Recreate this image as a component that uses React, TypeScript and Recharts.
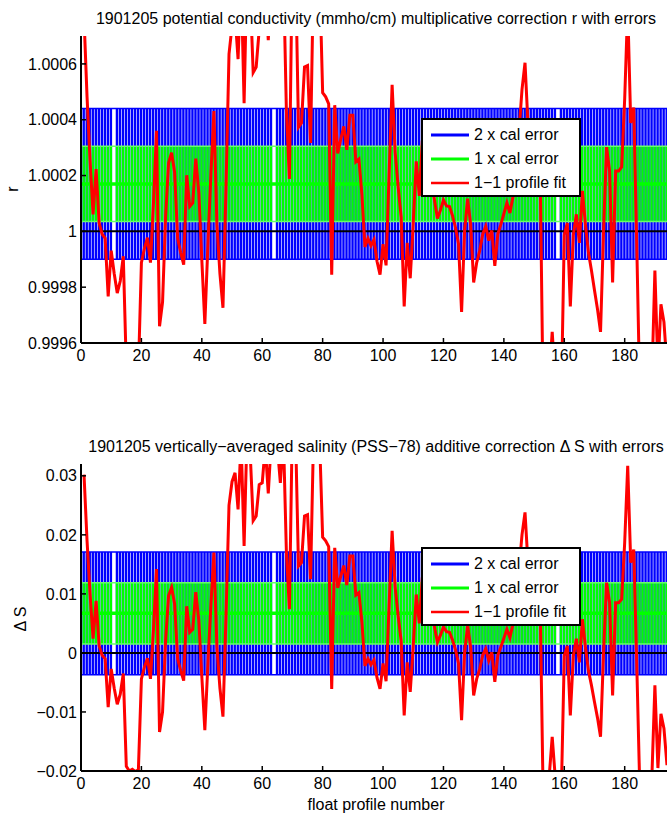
import { Bar, ComposedChart, Line, ReferenceLine, XAxis, YAxis } from "recharts";

// ---------------------------------------------------------------------------
// Data (float 1901205, profiles 1..195)
// ---------------------------------------------------------------------------

const deltaSFit = [
  0.0302, 0.019, 0.01, 0.0024, 0.0088, 0.0012, -0.0004, -0.001, -0.0092, -0.0027,
  -0.006, -0.0087, -0.007, -0.0035, -0.0192, -0.02, -0.0197, -0.0201, -0.0198, -0.0044,
  -0.0024, -0.0009, -0.0044, 0.004, 0.0142, -0.0134, -0.01, 0.002, 0.0097, 0.0111,
  0.0083, -0.001, -0.003, -0.0047, 0.0079, 0.0035, 0.004, 0.0103, 0.0055, -0.004,
  -0.0131, -0.002, 0.008, 0.017, 0.001, -0.006, -0.0108, 0.006, 0.025, 0.029,
  0.0305, 0.0243, 0.036, 0.0181, 0.038, 0.034, 0.0224, 0.0232, 0.0285, 0.0288,
  0.035, 0.027, 0.036, 0.034, 0.035, 0.0288, 0.037, 0.017, 0.0074, 0.04,
  0.038, 0.0147, 0.0153, 0.0232, 0.0234, 0.0125, 0.037, 0.042, 0.036, 0.0196,
  0.019, 0.018, -0.0061, 0.0178, 0.011, 0.013, 0.0148, 0.0115, 0.0164, 0.0164,
  0.0098, 0.0102, 0.0052, -0.0022, -0.001, -0.002, -0.0012, -0.0042, -0.0061, -0.0018,
  -0.0048, 0.008, 0.0207, 0.0112, 0.0063, 0.002, -0.0106, -0.0016, -0.0066, 0.0012,
  0.0099, 0.005, 0.0128, 0.01, 0.0085, 0.007, 0.0045, 0.0018, 0.003, 0.0044,
  0.0036, 0.0035, 0.0022, 0.0005, -0.0018, -0.0114, 0.0001, 0.0046, 0.001, -0.0072,
  -0.0044, -0.0027, -0.0004, 0.0007, -0.0013, 0.0001, -0.0049, -0.0004, 0.001, 0.0025,
  0.004, 0.0026, 0.0049, 0.008, 0.014, 0.02, 0.0238, 0.015, 0.013, 0.011,
  0.01, 0.009, -0.024, -0.026, -0.021, -0.0142, -0.021, -0.026, -0.024, -0.0005,
  0.0012, -0.0106, -0.0005, 0.0024, -0.0016, 0.0057, 0.001, -0.003, -0.0055, -0.0083,
  -0.011, -0.0142, 0, 0.0119, 0.0085, -0.0072, 0.0085, 0.0085, 0.0091, 0.0187,
  0.0317, 0.0153, 0.0175, -0.002, -0.023, -0.028, -0.03, -0.026, -0.021, -0.0055,
  -0.0195, -0.0103, -0.0128, -0.019, -0.015,
];

const rFit = [
  1.000766, 1.000482, 1.000254, 1.000061, 1.000223, 1.00003, 0.99999, 0.999975, 0.999767, 0.999931,
  0.999848, 0.999779, 0.999822, 0.999911, 0.999513, 0.999492, 0.9995, 0.99949, 0.999497, 0.999888,
  0.999939, 0.999977, 0.999888, 1.000102, 1.00036, 0.99966, 0.999746, 1.000051, 1.000246, 1.000282,
  1.000211, 0.999975, 0.999924, 0.999881, 1.000201, 1.000089, 1.000102, 1.000261, 1.00014, 0.999898,
  0.999668, 0.999949, 1.000203, 1.000431, 1.000025, 0.999848, 0.999726, 1.000152, 1.000635, 1.000736,
  1.000774, 1.000617, 1.000914, 1.000459, 1.000964, 1.000863, 1.000569, 1.000589, 1.000723, 1.000731,
  1.000888, 1.000685, 1.000914, 1.000863, 1.000888, 1.000731, 1.000939, 1.000431, 1.000188, 1.001015,
  1.000964, 1.000373, 1.000388, 1.000589, 1.000594, 1.000317, 1.000939, 1.001066, 1.000914, 1.000497,
  1.000482, 1.000457, 0.999845, 1.000452, 1.000279, 1.00033, 1.000376, 1.000292, 1.000416, 1.000416,
  1.000249, 1.000259, 1.000132, 0.999944, 0.999975, 0.999949, 0.99997, 0.999893, 0.999845, 0.999954,
  0.999878, 1.000203, 1.000525, 1.000284, 1.00016, 1.000051, 0.999731, 0.999959, 0.999832, 1.00003,
  1.000251, 1.000127, 1.000325, 1.000254, 1.000216, 1.000178, 1.000114, 1.000046, 1.000076, 1.000112,
  1.000091, 1.000089, 1.000056, 1.000013, 0.999954, 0.999711, 1.000003, 1.000117, 1.000025, 0.999817,
  0.999888, 0.999931, 0.99999, 1.000018, 0.999967, 1.000003, 0.999876, 0.99999, 1.000025, 1.000063,
  1.000102, 1.000066, 1.000124, 1.000203, 1.000355, 1.000508, 1.000604, 1.000381, 1.00033, 1.000279,
  1.000254, 1.000228, 0.999391, 0.99934, 0.999467, 0.99964, 0.999467, 0.99934, 0.999391, 0.999987,
  1.00003, 0.999731, 0.999987, 1.000061, 0.999959, 1.000145, 1.000025, 0.999924, 0.99986, 0.999789,
  0.999721, 0.99964, 1, 1.000302, 1.000216, 0.999817, 1.000216, 1.000216, 1.000231, 1.000475,
  1.000805, 1.000388, 1.000444, 0.999949, 0.999416, 0.999289, 0.999239, 0.99934, 0.999467, 0.99986,
  0.999505, 0.999739, 0.999675, 0.999518, 0.999619,
];

// profiles with no calibration error bar drawn
const missingProfiles = [11, 64, 158];

// mapped calibration (mean, 1 x error)
const rCal = [1.00017, 0.000135];
const deltaSCal = [0.0067, 0.0052];

const xTicks = [0, 20, 40, 60, 80, 100, 120, 140, 160, 180];
const rTicks = [0.9996, 0.9998, 1, 1.0002, 1.0004, 1.0006];
const rTickLabels = ["0.9996", "0.9998", "1", "1.0002", "1.0004", "1.0006"];
const deltaSTicks = [-0.02, -0.01, 0, 0.01, 0.02, 0.03];
const deltaSTickLabels = ["\u22120.02", "\u22120.01", "0", "0.01", "0.02", "0.03"];

const legendLabels = ["2 x cal error", "1 x cal error", "1\u22121 profile fit"];
const legendColors = ["#0000ff", "#00ff00", "#ff0000"];

// ---------------------------------------------------------------------------
// Styling
// ---------------------------------------------------------------------------

const FONT = "'Liberation Sans', Arial, Helvetica, sans-serif";
const X_DOMAIN: [number, number] = [0, 195];
const AXIS_LINE = { stroke: "#000", strokeWidth: 2 };
const TICK_LINE = { stroke: "#000", strokeWidth: 1.5 };
const TICK_STYLE = { fontSize: 16, fill: "#000", fontFamily: FONT };

// ---------------------------------------------------------------------------
// One panel
// ---------------------------------------------------------------------------

interface PanelProps {
  fit: number[];
  cal: number[];
  domain: [number, number];
  ticks: number[];
  tickLabels: string[];
  zero: number;
}

function Panel({ fit, cal, domain, ticks, tickLabels, zero }: PanelProps) {
  const [mean, err] = cal;
  const rows = fit.map((v, i) => {
    const p = i + 1;
    const missing = missingProfiles.includes(p);
    return {
      p,
      fit: v,
      outer: missing ? null : [mean - 2 * err, mean + 2 * err],
      inner: missing ? null : [mean - err, mean + err],
    };
  });
  const label = (v: number) => {
    const i = ticks.findIndex((t) => Math.abs(t - v) < 1e-9);
    return i >= 0 ? tickLabels[i] : String(v);
  };

  return (
    <ComposedChart
      width={700}
      height={400}
      data={rows}
      margin={{ top: 36, right: 30, bottom: 27, left: 11 }}
    >
      <XAxis
        dataKey="p"
        type="number"
        domain={X_DOMAIN}
        ticks={xTicks}
        interval={0}
        allowDataOverflow
        height={30}
        tickSize={-5}
        tickMargin={12}
        axisLine={AXIS_LINE}
        tickLine={TICK_LINE}
        tick={TICK_STYLE}
      />
      <XAxis xAxisId="inner" dataKey="p" type="number" domain={X_DOMAIN} allowDataOverflow hide />
      <XAxis
        xAxisId="top"
        orientation="top"
        dataKey="p"
        type="number"
        domain={X_DOMAIN}
        ticks={xTicks}
        interval={0}
        allowDataOverflow
        height={0}
        tickSize={-5}
        tick={false}
        axisLine={AXIS_LINE}
        tickLine={TICK_LINE}
      />
      <YAxis
        type="number"
        domain={domain}
        ticks={ticks}
        interval={0}
        allowDataOverflow
        width={70}
        tickSize={-5}
        tickMargin={9}
        tickFormatter={label}
        axisLine={AXIS_LINE}
        tickLine={TICK_LINE}
        tick={TICK_STYLE}
      />
      <YAxis
        yAxisId="right"
        orientation="right"
        type="number"
        domain={domain}
        ticks={ticks}
        interval={0}
        allowDataOverflow
        width={0}
        tickSize={-5}
        tick={false}
        axisLine={AXIS_LINE}
        tickLine={TICK_LINE}
      />

      <Bar dataKey="outer" fill="#0000ff" barSize={2.4} isAnimationActive={false} />
      <Bar dataKey="inner" xAxisId="inner" fill="#00ff00" barSize={2.4} isAnimationActive={false} />

      <ReferenceLine y={mean + 2 * err} stroke="#0000ff" strokeWidth={1.5} />
      <ReferenceLine y={mean - 2 * err} stroke="#0000ff" strokeWidth={1.5} />
      <ReferenceLine y={mean + err} stroke="#66ff66" strokeWidth={1.5} />
      <ReferenceLine y={mean - err} stroke="#66ff66" strokeWidth={1.5} />
      <ReferenceLine y={mean} stroke="#00ff00" strokeWidth={3.5} />
      <ReferenceLine y={zero} stroke="#000" strokeWidth={2} />

      <Line
        dataKey="fit"
        type="linear"
        stroke="#ff0000"
        strokeWidth={3}
        dot={false}
        isAnimationActive={false}
      />
    </ComposedChart>
  );
}

function LegendBox({ top }: { top: number }) {
  return (
    <g>
      <rect x={422} y={top} width={158} height={77} fill="#fff" stroke="#000" strokeWidth={2} />
      {legendLabels.map((text, i) => (
        <g key={text}>
          <line
            x1={431}
            x2={469}
            y1={top + 16 + i * 24}
            y2={top + 16 + i * 24}
            stroke={legendColors[i]}
            strokeWidth={i === 2 ? 2.5 : 3}
          />
          <text x={474} y={top + 21 + i * 24} fontSize={16} fontFamily={FONT} fill="#000">
            {text}
          </text>
        </g>
      ))}
    </g>
  );
}

export default function App() {
  return (
    <div
      style={{
        position: "fixed",
        left: 0,
        top: 0,
        width: 667,
        height: 815,
        overflow: "hidden",
        background: "#fff",
      }}
    >
      <div style={{ position: "absolute", left: 0, top: 0 }}>
        <Panel
          fit={rFit}
          cal={rCal}
          domain={[0.9996, 1.0007]}
          ticks={rTicks}
          tickLabels={rTickLabels}
          zero={1}
        />
      </div>
      <div style={{ position: "absolute", left: 0, top: 428 }}>
        <Panel
          fit={deltaSFit}
          cal={deltaSCal}
          domain={[-0.02, 0.032]}
          ticks={deltaSTicks}
          tickLabels={deltaSTickLabels}
          zero={0}
        />
      </div>

      <svg
        width={667}
        height={815}
        style={{ position: "absolute", left: 0, top: 0, pointerEvents: "none" }}
      >
        <g fontFamily={FONT} fontSize={16} fill="#000">
          <text x={376} y={24} textAnchor="middle">
            1901205 potential conductivity (mmho/cm) multiplicative correction r with errors
          </text>
          <text x={376} y={452} textAnchor="middle">
            1901205 vertically{"\u2212"}averaged salinity (PSS{"\u2212"}78) additive correction {"\u0394"} S with errors
          </text>
          <text transform="translate(18,189) rotate(-90)" textAnchor="middle">
            r
          </text>
          <text transform="translate(26,619) rotate(-90)" textAnchor="middle">
            {"\u0394"} S
          </text>
          <text x={376} y={810} textAnchor="middle">
            float profile number
          </text>
        </g>
        <LegendBox top={119} />
        <LegendBox top={548} />
      </svg>
    </div>
  );
}
